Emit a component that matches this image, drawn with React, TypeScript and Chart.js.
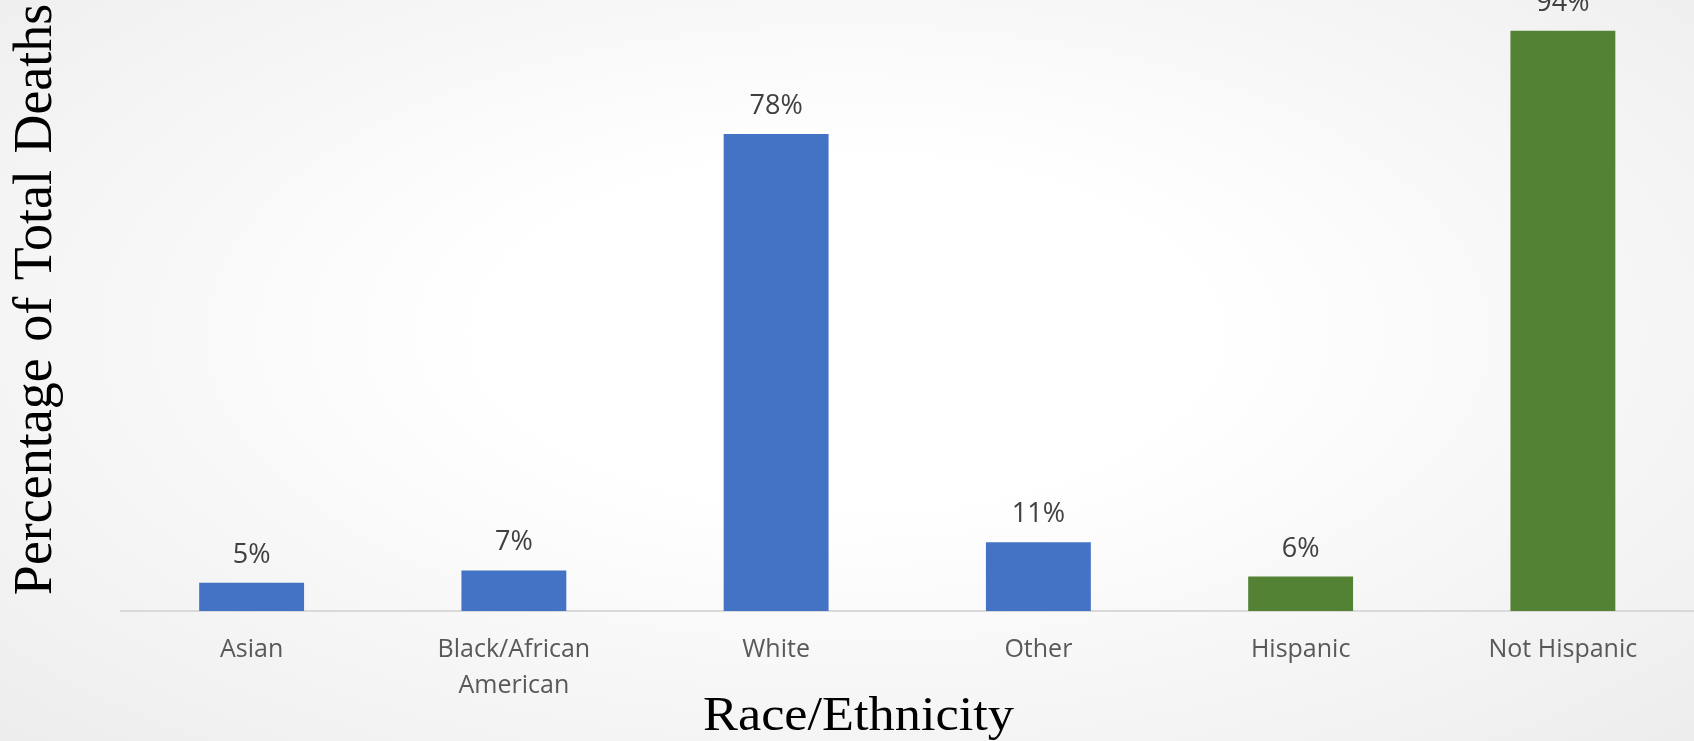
import React, { useEffect, useRef } from "react";
import { Chart, registerables } from "chart.js";

Chart.register(...registerables);

const categories: (string | string[])[] = [
  "Asian",
  ["Black/African", "American"],
  "White",
  "Other",
  "Hispanic",
  "Not Hispanic",
];
const percentValues: number[] = [4.6, 6.6, 77.6, 11.2, 5.6, 94.4];
const barColors: string[] = ["#4472C4", "#4472C4", "#4472C4", "#4472C4", "#548235", "#548235"];
const xAxisTitle = "Race/Ethnicity";
const yAxisTitle = "Percentage of Total Deaths";

const dataLabelPlugin = {
  id: "dataLabels",
  afterDatasetsDraw(chart: any) {
    const ctx = chart.ctx;
    const meta = chart.getDatasetMeta(0);
    ctx.save();
    ctx.font = "27px 'Open Sans'";
    ctx.fillStyle = "#404040";
    ctx.textAlign = "center";
    ctx.textBaseline = "alphabetic";
    meta.data.forEach((bar: any, i: number) => {
      const v = chart.data.datasets[0].data[i] as number;
      ctx.fillText(Math.round(v) + "%", bar.x, bar.y - 20);
    });
    ctx.restore();
  },
};

const axisTitlePlugin = {
  id: "axisTitles",
  afterDraw(chart: any) {
    const ctx = chart.ctx;
    const area = chart.chartArea;
    // y-axis title (rotated)
    ctx.save();
    ctx.fillStyle = "#000000";
    ctx.font = "54px 'Liberation Serif'";
    try {
      (ctx as any).wordSpacing = "3px";
    } catch (e) {}
    ctx.textAlign = "center";
    ctx.textBaseline = "middle";
    ctx.translate(36.4, area.top + (area.bottom - area.top) * 0.49);
    ctx.rotate(-Math.PI / 2);
    ctx.fillText(yAxisTitle, 0, 0);
    ctx.restore();

    // x-axis title
    ctx.save();
    ctx.fillStyle = "#000000";
    ctx.font = "48px 'Liberation Serif'";
    ctx.textAlign = "center";
    ctx.textBaseline = "alphabetic";
    const cx = area.left + (area.right - area.left) * 0.469;
    ctx.translate(cx, chart.height - 11);
    ctx.scale(1.09, 1);
    ctx.fillText(xAxisTitle, 0, 0);
    ctx.restore();
  },
};

export default function App() {
  const canvasRef = useRef<HTMLCanvasElement | null>(null);

  useEffect(() => {
    const canvas = canvasRef.current;
    if (!canvas) return;
    const chart = new Chart(canvas, {
      type: "bar",
      data: {
        labels: categories,
        datasets: [
          {
            data: percentValues,
            backgroundColor: barColors,
            barPercentage: 0.4,
            categoryPercentage: 1,
          },
        ],
      },
      options: {
        animation: false,
        responsive: false,
        layout: { padding: { top: 0, left: 120.5, right: 0, bottom: 16 } },
        plugins: {
          legend: { display: false },
          tooltip: { enabled: false },
        },
        scales: {
          x: {
            grid: { display: true, color: "transparent", drawTicks: false },
            border: { display: true, color: "#d9d9d9", width: 2 },
            ticks: {
              color: "#595959",
              padding: 21,
              font: { family: "'Open Sans'", size: 25, lineHeight: 1.44 },
              maxRotation: 0,
              autoSkip: false,
            },
          },
          y: {
            display: false,
            min: 0,
            max: 99.4,
          },
        },
      },
      plugins: [dataLabelPlugin, axisTitlePlugin],
    });
    return () => chart.destroy();
  }, []);

  return (
    <div
      style={{
        position: "fixed",
        left: 0,
        top: 0,
        width: 1694,
        height: 741,
        background:
          "radial-gradient(ellipse at 50% 45%, #ffffff 30%, #ededed 100%)",
      }}
    >
      <canvas ref={canvasRef} width={1694} height={741} style={{ display: "block" }} />
    </div>
  );
}
